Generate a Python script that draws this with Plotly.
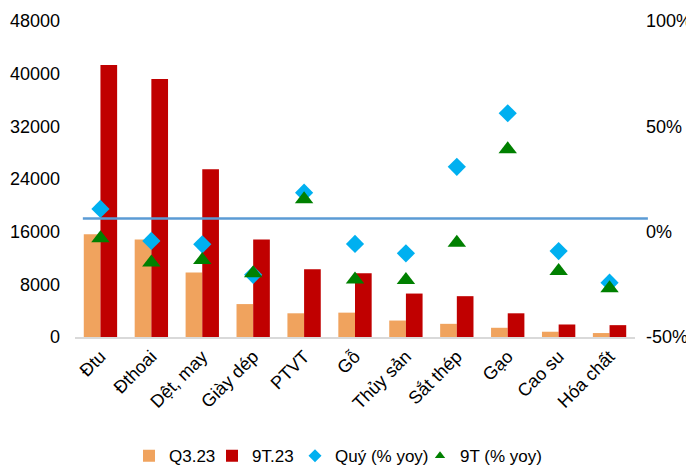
import plotly.graph_objects as go

categories = ["Đtu", "Đthoai", "Dệt, may", "Giày dép", "PTVT", "Gỗ",
              "Thủy sản", "Sắt thép", "Gạo", "Cao su", "Hóa chất"]
q3_23 = [15600, 14800, 9800, 5000, 3600, 3700, 2500, 2000, 1400, 800, 600]
t9_23 = [41300, 39200, 25500, 14800, 10300, 9700, 6600, 6200, 3600, 1900, 1800]
quy_yoy = [0.108, -0.044, -0.060, -0.205, 0.185, -0.058, -0.103, 0.308, 0.562, -0.092, -0.242]
t9_yoy = [-0.031, -0.146, -0.135, -0.197, 0.154, -0.227, -0.230, -0.053, 0.391, -0.187, -0.268]
ref_line_value = 18000

left_ticks = [0, 8000, 16000, 24000, 32000, 40000, 48000]
left_ticktext = ["0", "8000", "16000", "24000", "32000", "40000", "48000"]
right_ticks = [-0.5, 0, 0.5, 1.0]
right_ticktext = ["-50%", "0%", "50%", "100%"]

FONT = "Liberation Sans, Arial, sans-serif"
C_Q3, C_9T, C_QUY, C_9TY = "#F0A35E", "#C00000", "#00B0F0", "#008000"

fig = go.Figure()
fig.add_trace(go.Bar(x=categories, y=q3_23, name="Q3.23", legend="legend",
                     marker=dict(color=C_Q3, line=dict(width=0))))
fig.add_trace(go.Bar(x=categories, y=t9_23, name="9T.23", legend="legend2",
                     marker=dict(color=C_9T, line=dict(width=0))))
fig.add_trace(go.Scatter(x=categories, y=quy_yoy, name="Quý (% yoy)", mode="markers",
                         yaxis="y2", showlegend=False,
                         marker=dict(symbol="diamond", size=14, color=C_QUY)))
fig.add_trace(go.Scatter(x=categories, y=t9_yoy, name="9T (% yoy)", mode="markers",
                         yaxis="y2", showlegend=False,
                         marker=dict(symbol="triangle-up", size=16, color=C_9TY)))
# legend-only entries with smaller symbols
fig.add_trace(go.Scatter(x=[None], y=[None], name="Quý (% yoy)", mode="markers",
                         yaxis="y2", legend="legend3",
                         marker=dict(symbol="diamond", size=10, color=C_QUY)))
fig.add_trace(go.Scatter(x=[None], y=[None], name="9T (% yoy)", mode="markers",
                         yaxis="y2", legend="legend4",
                         marker=dict(symbol="triangle-up", size=9, color=C_9TY)))

fig.add_shape(type="line", xref="paper", yref="y", x0=0.014, x1=1.023,
              y0=ref_line_value, y1=ref_line_value,
              line=dict(color="#5B9BD5", width=2.5), layer="above")

PLOT_L, PLOT_W = 75, 560


def leg(px):
    return dict(orientation="h", x=(px - PLOT_L) / PLOT_W, xanchor="left",
                y=-0.377, yanchor="middle", font=dict(size=17, family=FONT),
                bgcolor="rgba(0,0,0,0)", borderwidth=0, itemwidth=30)


# the page body adds an 8px offset, so the figure is sized/margined to compensate
fig.update_layout(
    width=686, height=459,
    margin=dict(l=67, r=59, t=13, b=130, autoexpand=False),
    paper_bgcolor="white", plot_bgcolor="white",
    font=dict(family=FONT, size=18, color="#000000"),
    barmode="group", bargap=0.345, bargroupgap=0,
    showlegend=True,
    legend=leg(129), legend2=leg(212), legend3=leg(295), legend4=leg(420),
    xaxis=dict(type="category", tickangle=-45, showgrid=False, showline=True,
               linecolor="#D9D9D9", linewidth=2, ticks="", tickfont=dict(size=18),
               range=[-0.5, 10.5], automargin=False),
    yaxis=dict(range=[0, 48000], tickvals=left_ticks, ticktext=left_ticktext,
               showgrid=False, zeroline=False, automargin=False,
               showline=False, ticks="", ticklabelstandoff=14),
    yaxis2=dict(range=[-0.5, 1.0], tickvals=right_ticks, ticktext=right_ticktext,
                overlaying="y", side="right", showgrid=False, zeroline=False,
                automargin=False, showline=False, ticks="", ticklabelstandoff=10),
)

fig.write_html("out.html")
